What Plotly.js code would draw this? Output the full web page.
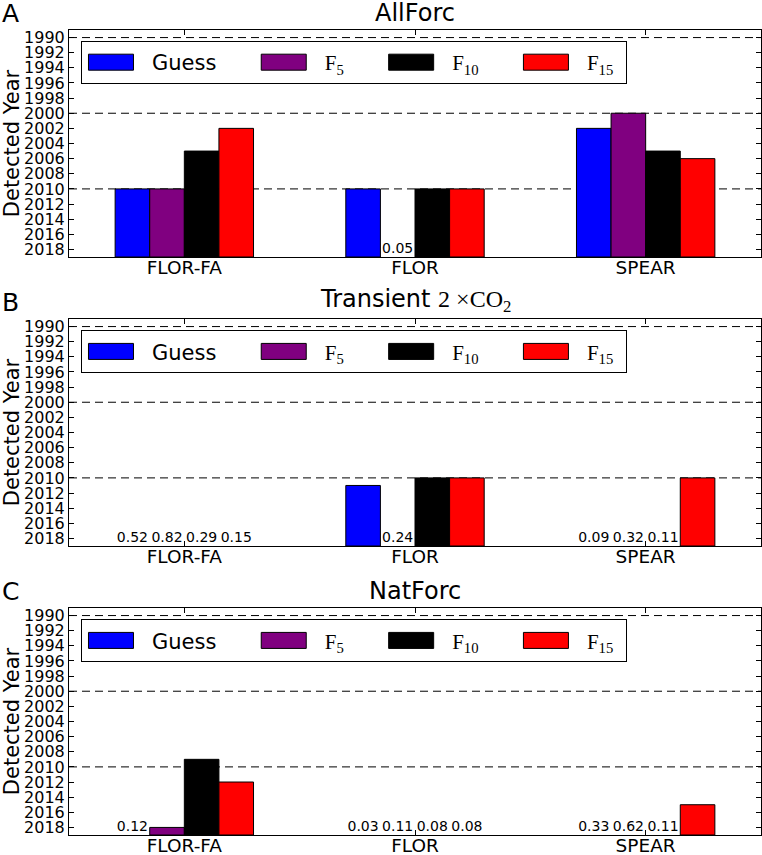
<!DOCTYPE html>
<html><head><meta charset="utf-8">
<script src="https://cdn.plot.ly/plotly-3.0.1.min.js"></script>
<style>body{margin:0;background:#fff}</style>
</head><body>
<div id="chart" style="width:762px;height:855px"></div>
<script>
// ---------- data ----------
const categories = ['FLOR-FA', 'FLOR', 'SPEAR'];
const seriesKeys = ['Guess', 'F5', 'F10', 'F15'];
const seriesLegend = ['Guess',
  '<span style="font-family:\'Liberation Serif\'">F<sub>5</sub></span>',
  '<span style="font-family:\'Liberation Serif\'">F<sub>10</sub></span>',
  '<span style="font-family:\'Liberation Serif\'">F<sub>15</sub></span>'];
const seriesColors = ['#0000ff', '#800080', '#000000', '#ff0000'];
const yearTicks = [1990, 1992, 1994, 1996, 1998, 2000, 2002, 2004, 2006, 2008, 2010, 2012, 2014, 2016, 2018];
const refYears = [1990, 2000, 2010];
const baseYear = 2019;
const topYear = 1989;
const labelYear = 2018;

const panelLetters = ['A', 'B', 'C'];
const panelTitles = ['AllForc',
  'Transient <span style="font-family:\'Liberation Serif\'">2 ×CO<sub>2</sub></span>',
  'NatForc'];

// detected year (null = not detected)
const allForcGuess = [2010, 2010, 2002];
const allForcF5    = [2010, null, 2000];
const allForcF10   = [2005, 2010, 2005];
const allForcF15   = [2002, 2010, 2006];
// label shown where not detected
const allForcLblGuess = [null, null, null];
const allForcLblF5    = [null, '0.05', null];
const allForcLblF10   = [null, null, null];
const allForcLblF15   = [null, null, null];

const co2Guess = [null, 2011, null];
const co2F5    = [null, null, null];
const co2F10   = [null, 2010, null];
const co2F15   = [null, 2010, 2010];
const co2LblGuess = ['0.52', null, '0.09'];
const co2LblF5    = ['0.82', '0.24', '0.32'];
const co2LblF10   = ['0.29', null, '0.11'];
const co2LblF15   = ['0.15', null, null];

const natGuess = [null, null, null];
const natF5    = [2018, null, null];
const natF10   = [2009, null, null];
const natF15   = [2012, null, 2015];
const natLblGuess = ['0.12', '0.03', '0.33'];
const natLblF5    = [null, '0.11', '0.62'];
const natLblF10   = [null, '0.08', '0.11'];
const natLblF15   = [null, '0.08', null];

const panelValues = [
  [allForcGuess, allForcF5, allForcF10, allForcF15],
  [co2Guess, co2F5, co2F10, co2F15],
  [natGuess, natF5, natF10, natF15]];
const panelLabels = [
  [allForcLblGuess, allForcLblF5, allForcLblF10, allForcLblF15],
  [co2LblGuess, co2LblF5, co2LblF10, co2LblF15],
  [natLblGuess, natLblF5, natLblF10, natLblF15]];

// ---------- layout constants ----------
const W = 762, H = 855;
const FONT = 'DejaVu Sans';
const barW = 0.15;
const offsets = [-0.3, -0.15, 0, 0.15];
const domains = [[0.718, 1.0], [0.359, 0.641], [0.0, 0.282]];
const legendY = [0.9863, 0.627, 0.268];
const legendPad = ['&nbsp;&nbsp;&nbsp;&nbsp;&nbsp;', '&nbsp;&nbsp;&nbsp;&nbsp;&nbsp;', '&nbsp;&nbsp;&nbsp;&nbsp;&nbsp;', '&nbsp;'];

const traces = [];
const layout = {
  width: W, height: H,
  margin: {l: 69, r: 1, t: 30, b: 20},
  paper_bgcolor: '#fff', plot_bgcolor: '#fff',
  font: {family: FONT, color: '#000'},
  barmode: 'overlay',
  showlegend: true,
  annotations: [], shapes: []
};

for (let p = 0; p < 3; p++) {
  const sfx = p === 0 ? '' : String(p + 1);
  const xa = 'x' + sfx, ya = 'y' + sfx;
  const lg = 'legend' + sfx;
  for (let s = 0; s < 4; s++) {
    const vals = panelValues[p][s];
    traces.push({
      type: 'bar', name: seriesLegend[s] + legendPad[s], legend: lg,
      xaxis: xa, yaxis: ya,
      x: categories.map((c, i) => i),
      y: vals.map(v => v == null ? null : v - baseYear),
      base: baseYear,
      width: barW, offset: offsets[s],
      marker: {color: seriesColors[s], line: {color: '#000', width: 1}},
      hoverinfo: 'skip'
    });
  }
  for (let s = 0; s < 4; s++) {
    const lbl = panelLabels[p][s];
    const xs = [], ys = [], ts = [];
    lbl.forEach((t, i) => { if (t != null) { xs.push(i + offsets[s] + barW / 2); ys.push(labelYear); ts.push(t); } });
    if (xs.length) traces.push({
      type: 'scatter', mode: 'text', xaxis: xa, yaxis: ya,
      x: xs, y: ys, text: ts, textposition: 'middle center',
      textfont: {family: FONT, size: 14, color: '#000'},
      showlegend: false, hoverinfo: 'skip', cliponaxis: false
    });
  }
  layout['xaxis' + sfx] = {
    domain: [0, 1], anchor: ya, range: [-0.5, 2.5],
    tickvals: [0, 1, 2], ticktext: categories,
    tickfont: {family: FONT, size: 18.5, color: '#000'},
    ticks: 'inside', ticklen: 5, tickcolor: '#000',
    ticklabelstandoff: -6,
    showline: true, linecolor: '#000', linewidth: 1, mirror: 'ticks',
    showgrid: false, zeroline: false, fixedrange: true
  };
  layout['yaxis' + sfx] = {
    domain: domains[p], anchor: xa, range: [baseYear, topYear],
    tickvals: yearTicks, ticktext: yearTicks.map(String),
    tickfont: {family: FONT, size: 16, color: '#000'},
    ticks: 'inside', ticklen: 5, tickcolor: '#000',
    showline: true, linecolor: '#000', linewidth: 1, mirror: 'ticks',
    showgrid: false, zeroline: false, fixedrange: true,
    title: {text: 'Detected Year', font: {family: FONT, size: 21, color: '#000'}, standoff: 4},
    automargin: false
  };
  layout[lg] = {
    orientation: 'h', x: 0.0173, y: legendY[p], xanchor: 'left', yanchor: 'top',
    bgcolor: '#fff', bordercolor: '#000', borderwidth: 1,
    font: {family: FONT, size: 21, color: '#000'},
    itemwidth: 60, itemclick: false, itemdoubleclick: false,
    tracegroupgap: 0
  };
  refYears.forEach(yr => layout.shapes.push({
    type: 'line', xref: xa + ' domain', yref: ya, x0: 0, x1: 1, y0: yr, y1: yr,
    line: {color: '#000', width: 1, dash: '8px,5px'}, layer: 'below'
  }));
  layout.annotations.push({
    text: panelTitles[p], xref: 'paper', yref: 'paper', x: 0.5, y: domains[p][1],
    xanchor: 'center', yanchor: 'bottom', yshift: 1, showarrow: false,
    font: {family: FONT, size: 24, color: '#000'}
  });
  layout.annotations.push({
    text: panelLetters[p], xref: 'paper', yref: 'paper', x: 0, y: domains[p][1],
    xanchor: 'left', yanchor: 'bottom', xshift: -69, yshift: 0, showarrow: false,
    font: {family: FONT, size: 25, color: '#000'}
  });
}

Plotly.newPlot('chart', traces, layout, {displayModeBar: false, staticPlot: true}).then(gd => {
  gd.querySelectorAll('.legendpoints path').forEach(el => {
    el.setAttribute('d', 'M16.5,8H-28.5V-8H16.5Z');
  });
});
</script>
</body></html>
